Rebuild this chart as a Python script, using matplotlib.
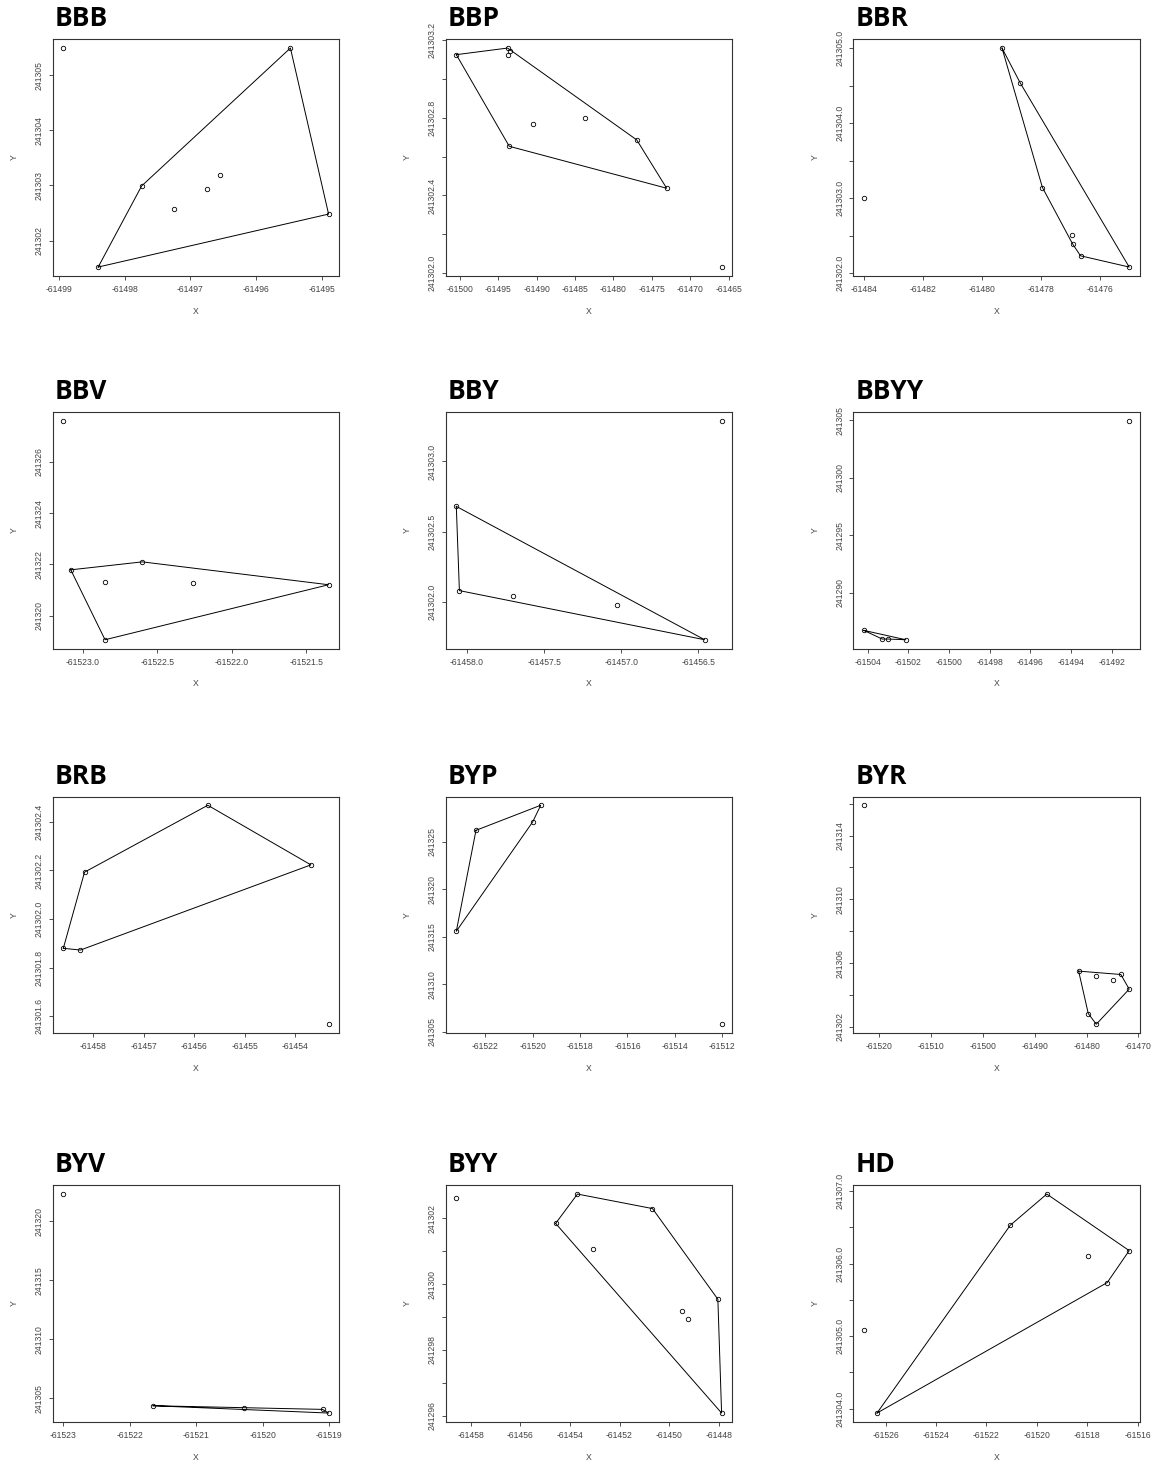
import numpy as np
import matplotlib.pyplot as plt

# points of each group (x, y) and the order of the hull vertices
bbb_x = [-61498.93, -61498.40, -61497.74, -61495.48, -61494.90, -61497.25, -61496.75, -61496.55]
bbb_y = [241305.49, 241301.52, 241302.99, 241305.49, 241302.48, 241302.58, 241302.94, 241303.19]
bbb_hull = [1, 2, 3, 4]

bbp_x = [-61500.48, -61493.80, -61493.54, -61493.80, -61490.55, -61483.74, -61476.97, -61473.07, -61493.58, -61465.91]
bbp_y = [241303.125, 241303.159, 241303.142, 241303.125, 241302.77, 241302.797, 241302.686, 241302.437, 241302.653, 241302.031]
bbp_hull = [0, 1, 6, 7, 8]

bbr_x = [-61484.0, -61479.32, -61478.71, -61477.95, -61476.96, -61476.93, -61476.66, -61475.01]
bbr_y = [241303.0, 241305.0, 241304.54, 241303.14, 241302.51, 241302.39, 241302.23, 241302.08]
bbr_hull = [1, 2, 7, 6, 5, 3]

bbv_x = [-61523.13, -61523.08, -61522.60, -61521.35, -61522.85, -61522.85, -61522.26]
bbv_y = [241327.59, 241321.79, 241322.10, 241321.21, 241319.07, 241321.31, 241321.27]
bbv_hull = [1, 2, 3, 4]

bby_x = [-61456.35, -61458.07, -61458.05, -61457.70, -61457.03, -61456.46]
bby_y = [241303.29, 241302.68, 241302.08, 241302.04, 241301.98, 241301.73]
bby_hull = [1, 2, 5]

bbyy_x = [-61491.14, -61504.18, -61503.28, -61503.0, -61502.12]
bbyy_y = [241304.94, 241286.73, 241285.98, 241285.98, 241285.92]
bbyy_hull = [1, 2, 3, 4]

brb_x = [-61458.59, -61458.25, -61458.17, -61455.73, -61453.69, -61453.34]
brb_y = [241301.88, 241301.873, 241302.193, 241302.468, 241302.223, 241301.568]
brb_hull = [0, 2, 3, 4, 1]

byp_x = [-61519.66, -61522.39, -61520.0, -61523.22, -61512.03]
byp_y = [241328.87, 241326.23, 241327.11, 241315.60, 241305.81]
byp_hull = [1, 0, 2, 3]

byr_x = [-61522.95, -61481.54, -61478.14, -61474.87, -61473.40, -61471.79, -61479.68, -61478.14]
byr_y = [241315.90, 241305.50, 241305.21, 241304.93, 241305.29, 241304.37, 241302.84, 241302.17]
byr_hull = [1, 4, 5, 7, 6]

byv_x = [-61523.0, -61521.65, -61520.28, -61519.10, -61519.01]
byv_y = [241322.32, 241304.38, 241304.21, 241304.07, 241303.76]
byv_hull = [1, 3, 4]

byy_x = [-61458.59, -61453.70, -61454.58, -61450.67, -61453.06, -61448.03, -61449.48, -61449.23, -61447.88]
byy_y = [241302.61, 241302.73, 241301.84, 241302.29, 241301.06, 241299.54, 241299.17, 241298.94, 241296.09]
byy_hull = [2, 1, 3, 5, 8]

hd_x = [-61526.86, -61526.34, -61521.05, -61519.60, -61516.33, -61517.95, -61517.20]
hd_y = [241305.09, 241303.94, 241306.53, 241306.96, 241306.18, 241306.10, 241305.74]
hd_hull = [1, 2, 3, 4, 6]

# axis ticks
bbb_xt = [-61499, -61498, -61497, -61496, -61495]
bbb_yt = [241302, 241303, 241304, 241305]
bbp_xt = [-61500, -61495, -61490, -61485, -61480, -61475, -61470, -61465]
bbp_yt = [241302.0, 241302.2, 241302.4, 241302.6, 241302.8, 241303.0, 241303.2]
bbr_xt = [-61484, -61482, -61480, -61478, -61476]
bbr_yt = [241302.0, 241302.5, 241303.0, 241303.5, 241304.0, 241304.5, 241305.0]
bbv_xt = [-61523.0, -61522.5, -61522.0, -61521.5]
bbv_yt = [241320, 241322, 241324, 241326]
bby_xt = [-61458.0, -61457.5, -61457.0, -61456.5]
bby_yt = [241302.0, 241302.5, 241303.0]
bbyy_xt = [-61504, -61502, -61500, -61498, -61496, -61494, -61492]
bbyy_yt = [241290, 241295, 241300, 241305]
brb_xt = [-61458, -61457, -61456, -61455, -61454]
brb_yt = [241301.6, 241301.8, 241302.0, 241302.2, 241302.4]
byp_xt = [-61522, -61520, -61518, -61516, -61514, -61512]
byp_yt = [241305, 241310, 241315, 241320, 241325]
byr_xt = [-61520, -61510, -61500, -61490, -61480, -61470]
byr_yt = [241302, 241304, 241306, 241308, 241310, 241312, 241314, 241316]
byv_xt = [-61523, -61522, -61521, -61520, -61519]
byv_yt = [241305, 241310, 241315, 241320]
byy_xt = [-61458, -61456, -61454, -61452, -61450, -61448]
byy_yt = [241296, 241297, 241298, 241299, 241300, 241301, 241302]
hd_xt = [-61526, -61524, -61522, -61520, -61518, -61516]
hd_yt = [241304.0, 241304.5, 241305.0, 241305.5, 241306.0, 241306.5, 241307.0]

names = ['BBB', 'BBP', 'BBR', 'BBV', 'BBY', 'BBYY', 'BRB', 'BYP', 'BYR', 'BYV', 'BYY', 'HD']
# label every n-th y tick (R drops labels that would overlap)
y_label_step = [1, 2, 2, 1, 1, 1, 1, 1, 2, 1, 2, 2]

panels = [
    (bbb_x, bbb_y, bbb_hull, bbb_xt, bbb_yt),
    (bbp_x, bbp_y, bbp_hull, bbp_xt, bbp_yt),
    (bbr_x, bbr_y, bbr_hull, bbr_xt, bbr_yt),
    (bbv_x, bbv_y, bbv_hull, bbv_xt, bbv_yt),
    (bby_x, bby_y, bby_hull, bby_xt, bby_yt),
    (bbyy_x, bbyy_y, bbyy_hull, bbyy_xt, bbyy_yt),
    (brb_x, brb_y, brb_hull, brb_xt, brb_yt),
    (byp_x, byp_y, byp_hull, byp_xt, byp_yt),
    (byr_x, byr_y, byr_hull, byr_xt, byr_yt),
    (byv_x, byv_y, byv_hull, byv_xt, byv_yt),
    (byy_x, byy_y, byy_hull, byy_xt, byy_yt),
    (hd_x, hd_y, hd_hull, hd_xt, hd_yt),
]

#layout in pixels
W, H = 1159, 1461
col_left = [52.7, 445.7, 853.3]
row_top = [39.3, 412.0, 796.5, 1185.3]
ax_w, ax_h = 286.5, 236.5

tick_font = 'Liberation Sans'
tick_col = '#444444'


def fmt(ticks):
    dec = 1 if any(abs(t - round(t)) > 1e-9 for t in ticks) else 0
    return [f"{t:.{dec}f}" for t in ticks]


def pad_range(v):
    lo, hi = min(v), max(v)
    d = (hi - lo) * 0.04
    return lo - d, hi + d


fig = plt.figure(figsize=(W / 100, H / 100), dpi=100)

for i, (name, (x, y, hull, xt, yt)) in enumerate(zip(names, panels)):
    r, c = divmod(i, 3)
    left, top = col_left[c], row_top[r]
    ax = fig.add_axes([left / W, 1 - (top + ax_h) / H, ax_w / W, ax_h / H])

    x = np.array(x)
    y = np.array(y)
    h = list(hull) + [hull[0]]
    ax.plot(x[h], y[h], color='black', lw=0.7)
    ax.plot(x, y, 'o', ms=3.2, mfc='none', mec='black', mew=0.6)

    ax.set_xlim(*pad_range(x))
    ax.set_ylim(*pad_range(y))

    ax.set_xticks(xt)
    ax.set_xticklabels(fmt(xt), fontsize=6.2, family=tick_font, color=tick_col)
    ylabs = fmt(yt)
    step = y_label_step[i]
    ylabs = [s if k % step == 0 else '' for k, s in enumerate(ylabs)]
    ax.set_yticks(yt)
    ax.set_yticklabels(ylabs, fontsize=6.2, family=tick_font, color=tick_col,
                       rotation=90, va='center')
    ax.tick_params(direction='out', length=3, width=0.6, color='#333333', pad=3.5)

    for s in ax.spines.values():
        s.set_linewidth(0.8)
        s.set_color('#333333')

    ax.set_xlabel('X', fontsize=6.2, family=tick_font, color=tick_col)
    ax.set_ylabel('Y', fontsize=6.2, family=tick_font, color=tick_col)
    ax.xaxis.set_label_coords(0.5, -31 / ax_h)
    ax.yaxis.set_label_coords(-34 / ax_w, 0.5)

    fig.text((left + 2) / W, 1 - (top - 13) / H, name, fontsize=19,
             fontweight='bold', family='Open Sans', va='baseline', ha='left')

fig.savefig('out.png', dpi=100, facecolor='white')
